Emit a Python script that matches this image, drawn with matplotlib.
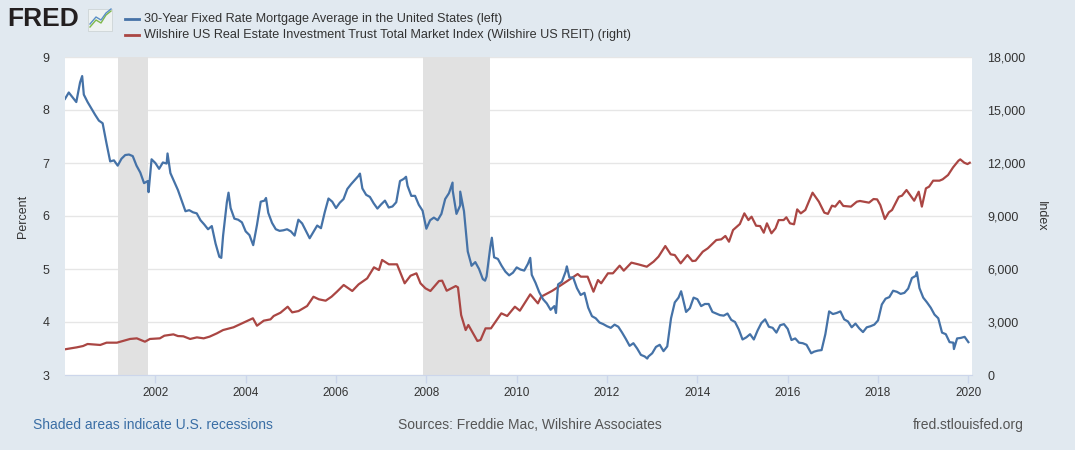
import numpy as np
import matplotlib.pyplot as plt
from matplotlib.lines import Line2D
from matplotlib.patches import Rectangle
from matplotlib.ticker import FuncFormatter

# 30-year fixed mortgage rate, monthly averages, Jan 2000 - Jan 2020 (percent)
mortgage = [
    8.21, 8.33, 8.24, 8.15, 8.52, 8.29, 8.15, 8.03, 7.91, 7.80, 7.75, 7.38,
    7.03, 7.05, 6.95, 7.08, 7.15, 7.16, 7.13, 6.95, 6.82, 6.62, 6.66, 7.07,
    7.00, 6.89, 7.01, 6.99, 6.81, 6.65, 6.49, 6.29, 6.09, 6.11, 6.07, 6.05,
    5.92, 5.84, 5.75, 5.81, 5.48, 5.23, 5.63, 6.26, 6.15, 5.95, 5.93, 5.88,
    5.71, 5.64, 5.45, 5.83, 6.27, 6.29, 6.06, 5.87, 5.75, 5.72, 5.73, 5.75,
    5.71, 5.63, 5.93, 5.86, 5.72, 5.58, 5.70, 5.82, 5.77, 6.07, 6.33, 6.27,
    6.15, 6.25, 6.32, 6.51, 6.60, 6.68, 6.76, 6.52, 6.40, 6.36, 6.24, 6.14,
    6.22, 6.29, 6.16, 6.18, 6.26, 6.66, 6.70, 6.57, 6.38, 6.38, 6.21, 6.10,
    5.76, 5.92, 5.97, 5.92, 6.04, 6.32, 6.43, 6.48, 6.04, 6.20, 6.09, 5.33,
    5.06, 5.13, 5.00, 4.81, 4.86, 5.42, 5.22, 5.19, 5.06, 4.95, 4.88, 4.93,
    5.03, 4.99, 4.97, 5.10, 4.89, 4.74, 4.56, 4.43, 4.35, 4.23, 4.30, 4.71,
    4.76, 4.95, 4.84, 4.84, 4.64, 4.51, 4.55, 4.27, 4.11, 4.07, 3.99, 3.96,
    3.92, 3.89, 3.95, 3.91, 3.80, 3.68, 3.55, 3.60, 3.50, 3.38, 3.35, 3.35,
    3.41, 3.53, 3.57, 3.45, 3.54, 4.07, 4.37, 4.46, 4.49, 4.19, 4.26, 4.46,
    4.43, 4.30, 4.34, 4.34, 4.19, 4.16, 4.13, 4.12, 4.16, 4.04, 4.00, 3.86,
    3.67, 3.71, 3.77, 3.67, 3.84, 3.98, 4.05, 3.91, 3.89, 3.80, 3.94, 3.96,
    3.87, 3.66, 3.69, 3.61, 3.60, 3.57, 3.44, 3.44, 3.46, 3.47, 3.77, 4.20,
    4.15, 4.17, 4.20, 4.05, 4.01, 3.90, 3.97, 3.88, 3.81, 3.90, 3.92, 3.95,
    4.03, 4.33, 4.44, 4.47, 4.59, 4.57, 4.53, 4.55, 4.63, 4.83, 4.87, 4.64,
    4.46, 4.37, 4.27, 4.14, 4.07, 3.80, 3.77, 3.62, 3.61, 3.69, 3.70, 3.72,
    3.62,
]
mortgage_start = 2000.0

# weekly highs / lows that the monthly averages smooth away (decimal year, percent)
mortgage_weekly_t = [2000.38, 2001.85, 2002.27, 2003.46, 2003.62, 2004.45, 2006.53,
                     2007.55, 2008.58, 2008.75, 2008.99, 2009.30, 2009.45, 2010.30,
                     2010.87, 2011.11, 2012.89, 2013.64, 2016.52, 2018.86, 2019.68]
mortgage_weekly_v = [8.64, 6.45, 7.18, 5.21, 6.44, 6.34, 6.80,
                     6.74, 6.63, 6.46, 5.10, 4.78, 5.59, 5.21,
                     4.17, 5.05, 3.31, 4.58, 3.41, 4.94, 3.49]

# Wilshire US REIT index (decimal year, index level)
reit_t = [2000.00, 2000.26, 2000.40, 2000.50, 2000.60, 2000.78, 2000.92, 2001.15,
          2001.44, 2001.59, 2001.77, 2001.88, 2002.10, 2002.20, 2002.40, 2002.50,
          2002.62, 2002.77, 2002.92, 2003.07, 2003.20, 2003.36, 2003.50, 2003.73,
          2003.95, 2004.16, 2004.25, 2004.40, 2004.55, 2004.62, 2004.77, 2004.93,
          2005.03, 2005.17, 2005.36, 2005.50, 2005.62, 2005.77, 2005.90, 2006.02,
          2006.17, 2006.36, 2006.50, 2006.69, 2006.84, 2006.95, 2007.02, 2007.17,
          2007.35, 2007.52, 2007.65, 2007.78, 2007.87, 2007.98, 2008.09, 2008.28,
          2008.35, 2008.45, 2008.65, 2008.70, 2008.77, 2008.87, 2008.93, 2009.13,
          2009.20, 2009.31, 2009.43, 2009.66, 2009.79, 2009.96, 2010.07, 2010.30,
          2010.47, 2010.54, 2010.78, 2010.93, 2011.12, 2011.35, 2011.42, 2011.57,
          2011.70, 2011.80, 2011.87, 2012.02, 2012.13, 2012.28, 2012.37, 2012.54,
          2012.69, 2012.88, 2013.03, 2013.14, 2013.29, 2013.41, 2013.50, 2013.63,
          2013.78, 2013.89, 2013.96, 2014.12, 2014.23, 2014.42, 2014.53, 2014.62,
          2014.70, 2014.79, 2014.94, 2015.04, 2015.13, 2015.20, 2015.30, 2015.39,
          2015.47, 2015.54, 2015.64, 2015.73, 2015.80, 2015.91, 2015.97, 2016.05,
          2016.14, 2016.21, 2016.29, 2016.39, 2016.55, 2016.69, 2016.81, 2016.89,
          2016.98, 2017.05, 2017.15, 2017.23, 2017.40, 2017.53, 2017.60, 2017.80,
          2017.90, 2017.98, 2018.05, 2018.15, 2018.24, 2018.31, 2018.46, 2018.53,
          2018.63, 2018.80, 2018.90, 2018.97, 2019.06, 2019.13, 2019.22, 2019.36,
          2019.43, 2019.55, 2019.66, 2019.78, 2019.82, 2019.91, 2019.98, 2020.03]
reit_v = [1455, 1565, 1640, 1755, 1735, 1700, 1830, 1830,
          2040, 2075, 1885, 2040, 2075, 2225, 2300, 2205,
          2190, 2040, 2130, 2075, 2170, 2355, 2545, 2700,
          2960, 3210, 2790, 3075, 3150, 3340, 3525, 3865,
          3545, 3620, 3905, 4430, 4285, 4205, 4430, 4715,
          5095, 4755, 5130, 5470, 6095, 5940, 6510, 6265,
          6265, 5190, 5620, 5755, 5190, 4905, 4755, 5320,
          5340, 4770, 5035, 4960, 3395, 2545, 2830, 1925,
          1985, 2640, 2640, 3490, 3340, 3865, 3640, 4565,
          4055, 4430, 4755, 5000, 5320, 5715, 5565, 5565,
          4715, 5375, 5190, 5755, 5755, 6190, 5905, 6360,
          6265, 6130, 6415, 6700, 7300, 6830, 6790, 6320,
          6790, 6450, 6470, 6980, 7170, 7640, 7680, 7870,
          7545, 8205, 8545, 9150, 8770, 8960, 8450, 8430,
          8055, 8585, 8020, 8300, 8770, 8770, 8925, 8585,
          8530, 9375, 9150, 9340, 10320, 9810, 9190, 9120,
          9585, 9530, 9850, 9570, 9530, 9810, 9850, 9755,
          9960, 9940, 9620, 8830, 9210, 9340, 10090, 10150,
          10470, 9865, 10375, 9530, 10565, 10660, 11000, 11000,
          11075, 11320, 11750, 12130, 12205, 12015, 11940, 12015]

# NBER recessions (decimal years)
recessions = [(2001 + 2 / 12, 2001 + 10 / 12), (2007 + 11 / 12, 2009 + 5 / 12)]
year_ticks = list(range(2002, 2021, 2))

BG = '#e1e9f0'
BLUE = '#4572a7'
RED = '#aa4643'
TXT = '#333333'

plt.rcParams['font.family'] = ['Liberation Sans', 'DejaVu Sans']

fig = plt.figure(figsize=(10.75, 4.5), dpi=100, facecolor=BG)
ax = fig.add_axes([65 / 1075, 1 - 375 / 450, (972 - 65) / 1075, (375 - 57) / 450])
ax2 = ax.twinx()

# back axes (right scale): white panel, grid, recessions, REIT line
ax2.set_zorder(1)
ax.set_zorder(2)
ax.patch.set_visible(False)
ax2.patch.set_visible(True)
ax2.patch.set_facecolor('white')
for a, b in recessions:
    ax2.axvspan(a, b, color='#e1e1e1', lw=0, zorder=1)
ax2.plot(reit_t, reit_v, color=RED, lw=1.6, zorder=2)
ax2.set_ylim(0, 18000)
ax2.set_yticks(range(0, 18001, 3000))
ax2.grid(axis='y', color='#e6e6e6', lw=1, zorder=0.5)
ax2.set_axisbelow(True)
ax2.yaxis.set_major_formatter(FuncFormatter(lambda v, p: f'{int(v):,}'))
ax2.tick_params(axis='y', length=0, labelcolor=TXT, labelsize=9, pad=11)
for s in ['top', 'right', 'left', 'bottom']:
    ax2.spines[s].set_visible(False)
ax2.set_ylabel('Index', color=TXT, fontsize=9, rotation=270, labelpad=15)

# front axes (left scale): mortgage line
pts = sorted(zip([mortgage_start + i / 12 for i in range(len(mortgage))] + mortgage_weekly_t,
                 mortgage + mortgage_weekly_v))
mt = [p[0] for p in pts]
mv = [p[1] for p in pts]
ax.plot(mt, mv, color=BLUE, lw=1.6, zorder=3)
ax.set_ylim(3, 9)
ax.set_xlim(2000.0, 2020.08)
ax.set_yticks(range(3, 10))
ax.set_xticks(year_ticks)
ax.tick_params(axis='x', colors='#ccd6eb', length=6, width=1, labelcolor=TXT,
               labelsize=8.5, pad=3)
ax.tick_params(axis='y', length=0, labelcolor=TXT, labelsize=9, pad=11)
for s in ['top', 'right', 'left']:
    ax.spines[s].set_visible(False)
ax.spines['bottom'].set_color('#ccd6eb')
ax.set_ylabel('Percent', color=TXT, fontsize=9, labelpad=10)

# FRED logo
fig.text(7 / 1075, 1 - 19 / 450, 'FRED', fontsize=19, fontweight='bold',
         color='#231f20', va='center', ha='left')
fig.patches.append(Rectangle((88 / 1075, 1 - 31 / 450), 24 / 1075, 22 / 450,
                             transform=fig.transFigure, facecolor='#eef2f2',
                             edgecolor='#c8d0d0', lw=0.5))
fig.lines.append(Line2D([90 / 1075, 96 / 1075, 101 / 1075, 106 / 1075, 111 / 1075],
                        [1 - 27 / 450, 1 - 20 / 450, 1 - 23 / 450, 1 - 15 / 450, 1 - 11 / 450],
                        transform=fig.transFigure, color='#7fb84b', lw=1))
fig.lines.append(Line2D([90 / 1075, 96 / 1075, 101 / 1075, 106 / 1075, 111 / 1075],
                        [1 - 24 / 450, 1 - 17 / 450, 1 - 20 / 450, 1 - 13 / 450, 1 - 9 / 450],
                        transform=fig.transFigure, color='#5b8fc6', lw=1))

# legend
for y, c, lab in [(19, BLUE, '30-Year Fixed Rate Mortgage Average in the United States (left)'),
                  (35, RED, 'Wilshire US Real Estate Investment Trust Total Market Index (Wilshire US REIT) (right)')]:
    fig.lines.append(Line2D([125 / 1075, 139 / 1075], [1 - y / 450] * 2,
                            transform=fig.transFigure, color=c, lw=2))
    fig.text(144 / 1075, 1 - y / 450, lab, fontsize=9.1, color=TXT, va='center', ha='left')

# footer
fig.text(33 / 1075, 1 - 425 / 450, 'Shaded areas indicate U.S. recessions', fontsize=10,
         color='#3a6ea5', va='center', ha='left')
fig.text(398 / 1075, 1 - 425 / 450, 'Sources: Freddie Mac, Wilshire Associates', fontsize=10,
         color='#555555', va='center', ha='left')
fig.text(1024 / 1075, 1 - 425 / 450, 'fred.stlouisfed.org', fontsize=10,
         color='#555555', va='center', ha='right')

fig.savefig('out.png', dpi=100, facecolor=BG)
